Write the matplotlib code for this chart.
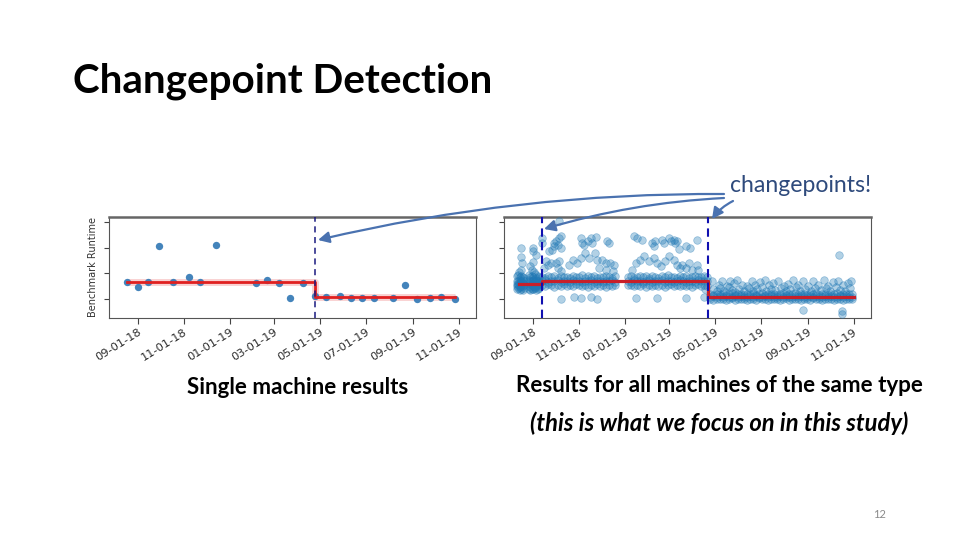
import numpy as np
import matplotlib
matplotlib.use("Agg")
import matplotlib.pyplot as plt
import matplotlib.dates as mdates
from matplotlib.patches import FancyArrowPatch

# ---------------- data (x = days after 2018-09-01, y = runtime units) ----------------
BASE_DATE = "2018-09-01"

# single machine
left_days = [-14, 0, 14, 29, 47, 68, 83, 104, 157, 171, 188, 202, 220, 236, 250,
             268, 283, 298, 313, 339, 355, 371, 388, 402, 421]
left_vals = [1.66, 1.45, 1.68, 3.05, 1.68, 1.87, 1.68, 3.10, 1.61, 1.74, 1.64, 1.03,
             1.64, 1.10, 1.08, 1.10, 1.04, 1.03, 1.04, 1.05, 1.56, 1.01, 1.04, 1.09, 1.01]
left_fit_days = [-14, 236, 236, 421]
left_fit_vals = [1.675, 1.675, 1.09, 1.09]
left_cp_days = [236]

# all machines: segment before first changepoint
a_days = [-21, -19, -17, -15, -13, -11, -5, -3, -1, 1, 3, 5, 7, 9]
a_r1 = [1.38, 1.42, 1.35, 1.40, 1.37, 1.43, 1.39, 1.36, 1.41, 1.38, 1.44, 1.37, 1.40, 1.42]
a_r2 = [1.50, 1.53, 1.48, 1.52, 1.49, 1.54, 1.51, 1.47, 1.53, 1.50, 1.48, 1.52, 1.55, 1.49]
a_r3 = [1.60, 1.58, 1.62, 1.59, 1.61, 1.57, 1.63, 1.60, 1.58, 1.62, 1.59, 1.61, 1.57, 1.60]
a_r4 = [1.72, 1.70, 1.75, 1.71, 1.73, 1.69, 1.74, 1.72, 1.70, 1.76, 1.71, 1.73, 1.69, 1.72]
a_r5 = [1.88, 1.95, 1.84, 1.91, 1.86, 1.82, 1.93, 1.87, 1.90, 1.85, 1.97, 1.83, 1.89, 1.86]
a_out_days = [-16, -15, 0, 0, 0, -1, -16, -18, -3, 2, -14, 5]
a_out_vals = [2.98, 2.65, 2.98, 2.88, 2.46, 2.13, 2.13, 2.05, 2.30, 2.05, 2.40, 2.70]

# segment between changepoints (two blocks with a gap around new year)
b1_days = [13, 17, 21, 25, 29, 33, 37, 41, 45, 49, 53, 57, 61, 65, 69, 73, 77, 81,
           85, 89, 93, 97, 101, 105, 109]
b1_lo = [1.55, 1.50, 1.57, 1.53, 1.48, 1.56, 1.52, 1.58, 1.50, 1.54, 1.49, 1.57, 1.53,
         1.51, 1.56, 1.48, 1.55, 1.52, 1.58, 1.50, 1.54, 1.47, 1.56, 1.52, 1.55]
b1_mid = [1.70, 1.73, 1.67, 1.71, 1.69, 1.74, 1.66, 1.72, 1.70, 1.68, 1.73, 1.69, 1.71,
          1.67, 1.72, 1.70, 1.74, 1.68, 1.71, 1.69, 1.66, 1.72, 1.70, 1.73, 1.68]
b1_hi = [1.86, 1.82, 1.90, 1.84, 1.88, 1.83, 1.91, 1.85, 1.87, 1.81, 1.89, 1.84, 1.86,
         1.92, 1.83, 1.88, 1.85, 1.90, 1.82, 1.87, 1.84, 1.89, 1.86, 1.83, 1.88]
b2_days = [127, 131, 135, 139, 143, 147, 151, 155, 159, 163, 167, 171, 175, 179, 183,
           187, 191, 195, 199, 203, 207, 211, 215, 219, 223, 227, 231]
b2_lo = [1.53, 1.56, 1.49, 1.55, 1.51, 1.57, 1.48, 1.54, 1.52, 1.56, 1.50, 1.55, 1.47, 1.53,
         1.57, 1.51, 1.54, 1.49, 1.56, 1.52, 1.55, 1.48, 1.53, 1.57, 1.50, 1.54, 1.52]
b2_mid = [1.71, 1.68, 1.73, 1.69, 1.72, 1.66, 1.70, 1.74, 1.67, 1.71, 1.69, 1.73, 1.68, 1.70,
          1.72, 1.66, 1.71, 1.74, 1.69, 1.67, 1.72, 1.70, 1.68, 1.73, 1.69, 1.71, 1.70]
b2_hi = [1.85, 1.89, 1.83, 1.87, 1.91, 1.84, 1.88, 1.82, 1.90, 1.86, 1.83, 1.89, 1.85, 1.92,
         1.84, 1.87, 1.82, 1.88, 1.85, 1.90, 1.83, 1.87, 1.91, 1.84, 1.86, 1.89, 1.85]
b_out_days = [13, 13, 35, 29, 31, 29, 33, 35, 37, 26, 37, 22, 18, 15, 20, 24, 31, 35, 33, 37,
              48, 53, 59, 64, 66, 64, 68, 73, 77, 79, 84, 70, 75, 83, 85, 88, 92, 97, 99,
              101, 103, 108, 106, 98, 37, 55, 64, 77, 85,
              134, 139, 145, 159, 161, 163, 172, 174, 181, 183, 187, 189, 192, 194, 203,
              209, 218, 132, 137, 143, 148, 154, 161, 165, 170, 176, 181, 187, 192, 196,
              198, 203, 207, 212, 218, 219, 137, 165, 203, 227, 229]
b_out_vals = [3.38, 3.18, 4.03, 3.18, 3.25, 3.05, 3.12, 3.38, 3.44, 2.92, 2.99, 2.86, 2.47,
              2.21, 2.34, 2.40, 2.40, 2.47, 2.21, 2.08, 2.34, 2.53, 2.40, 2.60, 3.18, 3.38,
              3.12, 3.25, 3.38, 3.18, 3.42, 2.79, 2.60, 2.79, 2.53, 2.21, 2.53, 2.40, 3.25,
              3.18, 2.40, 2.34, 2.08, 2.14, 1.01, 1.08, 1.04, 1.08, 1.01,
              3.44, 3.38, 3.31, 3.18, 3.05, 3.25, 3.31, 3.18, 3.38, 3.25, 3.31, 3.18, 3.25,
              2.95, 3.05, 3.01, 3.29, 2.14, 2.40, 2.53, 2.66, 2.47, 2.60, 2.40, 2.27, 2.47,
              2.66, 2.53, 2.34, 2.21, 2.34, 2.21, 2.40, 2.14, 2.34, 2.14, 1.04, 1.04, 1.04,
              1.08, 1.39]

# segment after second changepoint
c_days = [236, 240, 244, 248, 252, 256, 260, 264, 268, 272, 276, 280, 284, 288, 292, 296,
          300, 304, 308, 312, 316, 320, 324, 328, 332, 336, 340, 344, 348, 352, 356, 360,
          364, 368, 372, 376, 380, 384, 388, 392, 396, 400, 404, 408, 412, 416, 420, 424]
c_lo = [1.00, 0.98, 1.02, 0.99, 1.01, 0.97, 1.00, 1.03, 0.98, 1.01, 0.99, 1.02, 0.97, 1.00,
        1.01, 0.98, 1.03, 0.99, 1.00, 0.97, 1.02, 0.99, 1.01, 0.98, 1.00, 1.03, 0.97, 1.01,
        0.99, 1.02, 0.98, 1.00, 1.01, 0.97, 1.03, 0.99, 1.00, 0.98, 1.02, 0.99, 1.01, 0.97,
        1.00, 1.02, 0.98, 1.01, 0.99, 1.00]
c_mid = [1.09, 1.11, 1.07, 1.10, 1.08, 1.12, 1.09, 1.06, 1.10, 1.08, 1.11, 1.07, 1.09, 1.12,
         1.08, 1.10, 1.06, 1.09, 1.11, 1.08, 1.10, 1.07, 1.09, 1.12, 1.08, 1.10, 1.07, 1.09,
         1.11, 1.08, 1.10, 1.06, 1.09, 1.11, 1.08, 1.10, 1.07, 1.09, 1.12, 1.08, 1.10, 1.07,
         1.09, 1.11, 1.08, 1.10, 1.09, 1.07]
c_hi = [1.19, 1.16, 1.21, 1.18, 1.22, 1.17, 1.20, 1.23, 1.16, 1.19, 1.21, 1.17, 1.20, 1.18,
        1.22, 1.16, 1.19, 1.23, 1.17, 1.20, 1.18, 1.21, 1.16, 1.19, 1.22, 1.17, 1.20, 1.18,
        1.23, 1.16, 1.19, 1.21, 1.17, 1.20, 1.18, 1.22, 1.16, 1.19, 1.21, 1.17, 1.20, 1.18,
        1.23, 1.16, 1.19, 1.21, 1.18, 1.20]
c_out_days = [238, 247, 251, 258, 262, 267, 271, 278, 284, 291, 295, 302, 308, 313, 319, 326,
              333, 339, 346, 352, 359, 366, 372, 379, 386, 392, 399, 405, 412, 419, 423,
              240, 244, 249, 254, 260, 265, 269, 274, 280, 287, 293, 298, 305, 310, 316, 322,
              329, 336, 342, 349, 355, 362, 369, 375, 382, 389, 395, 402, 408, 415, 421,
              359, 410, 410, 406]
c_out_vals = [1.69, 1.56, 1.69, 1.52, 1.69, 1.62, 1.73, 1.56, 1.49, 1.69, 1.56, 1.65, 1.75,
              1.56, 1.62, 1.69, 1.49, 1.60, 1.75, 1.56, 1.69, 1.52, 1.69, 1.56, 1.73, 1.49,
              1.65, 1.69, 1.56, 1.62, 1.69,
              1.38, 1.30, 1.42, 1.33, 1.45, 1.36, 1.28, 1.40, 1.33, 1.44, 1.30, 1.38, 1.45,
              1.32, 1.40, 1.34, 1.43, 1.30, 1.38, 1.45, 1.33, 1.40, 1.30, 1.44, 1.36, 1.42,
              1.31, 1.45, 1.37, 1.33, 1.42,
              0.58, 0.52, 0.43, 2.70]

right_fit_days = [-18, 12.5, 12.5, 233, 233, 426]
right_fit_vals = [1.58, 1.58, 1.70, 1.70, 1.09, 1.09]
right_cp_days = [12.5, 233]

y_ticks = [1, 2, 3, 4]
x_lim_days = (-38, 449)
y_lim = (0.26, 4.2)

# ---------------- figure ----------------
W, H = 960, 540
fig = plt.figure(figsize=(W / 100, H / 100), dpi=100)
fig.patch.set_facecolor("white")
base = mdates.date2num(np.datetime64(BASE_DATE))


def X(days):
    return base + np.asarray(days, dtype=float)


def px_axes(x0, y0, x1, y1):
    return fig.add_axes([x0 / W, 1 - y1 / H, (x1 - x0) / W, (y1 - y0) / H])


def style_axes(ax):
    ax.set_xlim(X(x_lim_days[0]), X(x_lim_days[1]))
    ax.set_ylim(*y_lim)
    ax.set_yticks(y_ticks)
    ax.tick_params(axis="y", labelleft=False, length=3.5, width=0.8, color="#444444")
    ax.xaxis.set_major_locator(mdates.MonthLocator(bymonth=[1, 3, 5, 7, 9, 11]))
    ax.xaxis.set_major_formatter(mdates.DateFormatter("%m-%d-%y"))
    ax.tick_params(axis="x", length=4, width=0.8, color="#444444", labelsize=8.2,
                   labelcolor="#2a2a2a", pad=2)
    for lab in ax.get_xticklabels():
        lab.set_rotation(32)
        lab.set_ha("right")
        lab.set_rotation_mode("anchor")
    for side in ["left", "right", "bottom"]:
        ax.spines[side].set_color("#555555")
        ax.spines[side].set_linewidth(0.8)
    ax.spines["top"].set_color("#666666")
    ax.spines["top"].set_linewidth(1.8)


# left chart
axL = px_axes(109, 217, 476, 318)
axL.scatter(X(left_days), left_vals, s=28, color="#3a7db8", alpha=0.95, linewidths=0, zorder=3)
axL.plot(X(left_fit_days), left_fit_vals, color="#f08080", lw=5, alpha=0.35, zorder=2,
         solid_capstyle="butt")
axL.plot(X(left_fit_days), left_fit_vals, color="#e02020", lw=2.0, zorder=4)
for d in left_cp_days:
    axL.axvline(X(d), color="#1a1a80", lw=1.1, ls=(0, (4, 3)), zorder=5)
style_axes(axL)

# right chart
axR = px_axes(504, 217, 871, 318)
face = (0.12, 0.47, 0.71, 0.34)
edge = (0.12, 0.47, 0.71, 0.42)
kw = dict(s=30, facecolor=face, edgecolor=edge, linewidths=0.5, zorder=3)
for row in [a_r1, a_r2, a_r3, a_r4, a_r5]:
    axR.scatter(X(a_days), row, **kw)
axR.scatter(X(a_out_days), a_out_vals, **kw)
for row in [b1_lo, b1_mid, b1_hi]:
    axR.scatter(X(b1_days), row, **kw)
for row in [b2_lo, b2_mid, b2_hi]:
    axR.scatter(X(b2_days), row, **kw)
axR.scatter(X(b_out_days), b_out_vals, **kw)
for row in [c_lo, c_mid, c_hi]:
    axR.scatter(X(c_days), row, **kw)
axR.scatter(X(c_out_days), c_out_vals, **kw)
axR.plot(X(right_fit_days), right_fit_vals, color="#c8202a", lw=2.3, zorder=4)
for d in right_cp_days:
    axR.axvline(X(d), color="#1010b0", lw=1.5, ls=(0, (4, 2.5)), zorder=5)
style_axes(axR)

fig.text(93 / W, 1 - 267 / H, "Benchmark Runtime", rotation=90, ha="center", va="center",
         fontsize=7, color="#333333")

# ---------------- texts ----------------
renderer = fig.canvas.get_renderer()


def fit_text(x, y, s, width, ha="left", **kws):
    t = fig.text(x / W, 1 - y / H, s, ha=ha, va="center", fontsize=20, **kws)
    w = t.get_window_extent(renderer).width
    t.set_fontsize(20 * width / w)
    return t


fit_text(73, 81, "Changepoint Detection", 420, family="Lato", weight="bold", color="black")
fit_text(298, 387, "Single machine results", 221, ha="center", family="Lato", weight="bold",
         color="black")
fit_text(719, 385, "Results for all machines of the same type", 406, ha="center",
         family="Lato", weight="bold", color="black")
fit_text(719, 423, "(this is what we focus on in this study)", 378, ha="center",
         family="Lato", weight="bold", style="italic", color="black")
fit_text(730, 186, "changepoints!", 141, family="Lato", color="#2e4a7c")
fig.text(880 / W, 1 - 515 / H, "12", ha="center", va="center", fontsize=8, color="#8a8a8a",
         family="Lato")

# ---------------- arrows ----------------
arrow_col = "#4a72b0"


def arrow(p0, p1, rad):
    a = FancyArrowPatch((p0[0] / W, 1 - p0[1] / H), (p1[0] / W, 1 - p1[1] / H),
                        transform=fig.transFigure, connectionstyle=f"arc3,rad={rad}",
                        arrowstyle="-|>,head_length=0.55,head_width=0.28", mutation_scale=12,
                        color=arrow_col, lw=1.6, shrinkA=0, shrinkB=0, zorder=10)
    fig.add_artist(a)


arrow((724, 194), (318, 240), 0.06)
arrow((724, 198), (544, 229), 0.06)
arrow((733, 201), (712, 219), 0.12)

fig.savefig("out.png", dpi=100, facecolor="white")
